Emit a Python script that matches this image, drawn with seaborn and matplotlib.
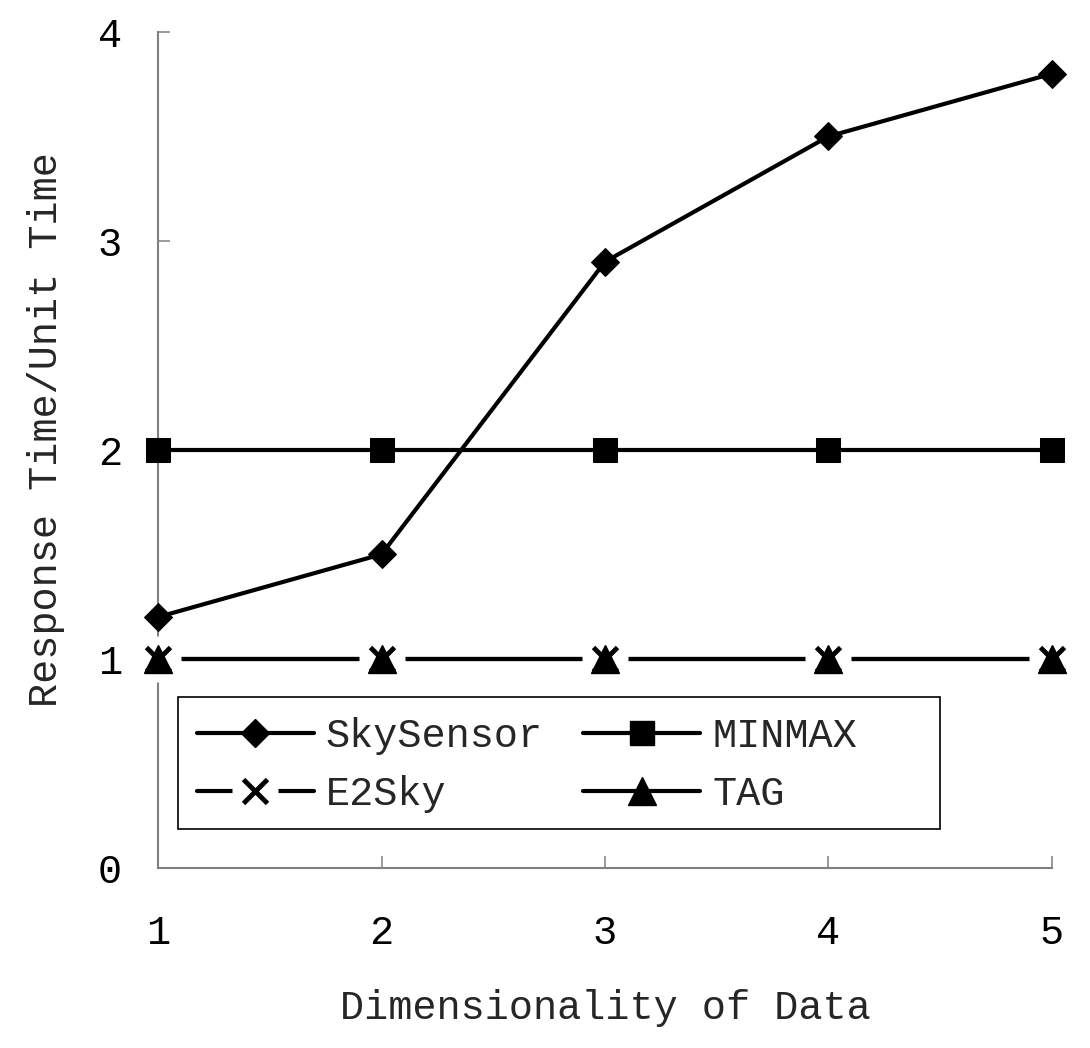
import pandas as pd
import seaborn as sns
import numpy as np
import matplotlib.pyplot as plt
from matplotlib.lines import Line2D
from matplotlib.patches import Rectangle
from matplotlib.legend_handler import HandlerTuple

# data
dims = [1, 2, 3, 4, 5]
skysensor = [1.2, 1.5, 2.9, 3.5, 3.8]
minmax = [2, 2, 2, 2, 2]
e2sky = [1, 1, 1, 1, 1]
tag = [1, 1, 1, 1, 1]

sns.set_theme(style='ticks')
plt.rcParams['font.family'] = ['Liberation Mono', 'DejaVu Sans Mono']
plt.rcParams['font.size'] = 29

fig = plt.figure(figsize=(10.9, 10.48), dpi=100)
ax = fig.add_axes([0.145, 0.172, 0.820, 0.7975])

df = pd.DataFrame({'dim': dims, 'SkySensor': skysensor, 'MINMAX': minmax,
                   'E2Sky': e2sky, 'TAG': tag})

lw = 3
# lines
sns.lineplot(data=df, x='dim', y='SkySensor', ax=ax, color='black', lw=lw,
             marker='D', markersize=14, markeredgecolor='black', clip_on=False, zorder=3)
sns.lineplot(data=df, x='dim', y='MINMAX', ax=ax, color='black', lw=lw,
             marker='s', markersize=17, markeredgecolor='black', clip_on=False, zorder=3)
sns.lineplot(data=df, x='dim', y='TAG', ax=ax, color='black', lw=lw, clip_on=False, zorder=2)
sns.lineplot(data=df, x='dim', y='E2Sky', ax=ax, color='black', lw=lw, clip_on=False, zorder=2)
# gaps in the E2Sky line around its markers
ax.plot(dims, e2sky, ls='none', marker='s', ms=33, mfc='white', mec='none',
        clip_on=False, zorder=2.6)
ax.plot(dims, tag, ls='none', marker='^', ms=20, mfc='black', mec='black',
        clip_on=False, zorder=3)
ax.plot(dims, e2sky, ls='none', marker='x', ms=17, mew=3.5, color='black',
        clip_on=False, zorder=3.5)

ax.set_xlim(1, 5)
ax.set_ylim(0, 4)
ax.set_xticks(dims)
ax.set_yticks([0, 1, 2, 3, 4])
ax.tick_params(axis='both', direction='in', length=8.5, width=1.1, color='#808080',
               labelsize=29, colors='black')
ax.tick_params(axis='x', pad=33)
ax.tick_params(axis='y', pad=26)
for s in ['top', 'right']:
    ax.spines[s].set_visible(False)
for s in ['left', 'bottom']:
    ax.spines[s].set_color('#808080')
    ax.spines[s].set_linewidth(1.5)

ax.set_xlabel('Dimensionality of Data', fontsize=29)
ax.set_ylabel('Response Time/Unit Time', fontsize=29)
ax.xaxis.set_label_coords(0.5, -0.145)
ax.yaxis.set_label_coords(-0.104, 0.524)

# legend
h_sky = Line2D([], [], color='black', lw=lw, marker='D', ms=14)
h_min = Line2D([], [], color='black', lw=lw, marker='s', ms=17)
h_e2 = (Line2D([], [], color='black', lw=lw),
        Line2D([], [], ls='none', marker='s', ms=33, mfc='white', mec='none'),
        Line2D([], [], ls='none', marker='x', ms=17, mew=3.5, color='black'))
h_tag = Line2D([], [], color='black', lw=lw, marker='^', ms=20)
leg = ax.legend([h_sky, h_e2, h_min, h_tag], ['SkySensor', 'E2Sky', 'MINMAX', 'TAG'],
                handler_map={tuple: HandlerTuple(ndivide=1)},
                ncol=2, loc='upper left', bbox_to_anchor=(0.0436, 0.180),
                fontsize=29, frameon=False, handlelength=2.9, handletextpad=0.3,
                labelspacing=0.5, borderpad=0, borderaxespad=0, columnspacing=1.0)
leg.set_zorder(5)
ax.add_patch(Rectangle((0.0224, 0.0467), 0.8523, 0.1578, transform=ax.transAxes,
                       fill=True, facecolor='white', edgecolor='black', lw=1.2,
                       zorder=4.5, clip_on=False))

plt.savefig('out.png', dpi=100)
